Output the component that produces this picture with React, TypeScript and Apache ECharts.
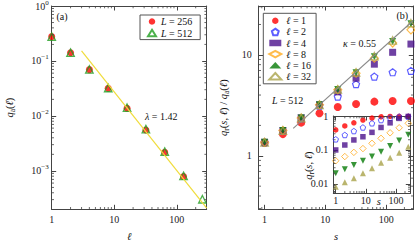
import React, { useEffect, useRef } from 'react';
import * as echarts from 'echarts';

// ---------- data ----------
const ellA = [1, 2, 4, 8, 16, 32, 64, 128, 256];
const qaL256 = [0.277, 0.141, 0.0695, 0.0319, 0.0138, 0.00556, 0.00219, 0.00079];
const qaL512 = [0.277, 0.142, 0.07, 0.0322, 0.0141, 0.00575, 0.00224, 0.00081, 0.000305];
const fitA = [[3, 0.152], [300, 0.00021]];

const sVals = [1, 2, 4, 8, 16, 32, 64, 128, 256];
const ratioL1 = [1.34, 1.64, 2.13, 2.64, 3.05, 3.26, 3.44, 3.49, 3.49];
const ratioL2 = [1.36, 1.76, 2.35, 3.14, 3.85, 5.12, 6.09, 6.73, 6.94];
const ratioL4 = [1.36, 1.78, 2.38, 3.2, 4.3, 5.87, 8.09, 10.6, 12.8];
const ratioL8 = [1.36, 1.78, 2.37, 3.2, 4.5, 6.58, 9.27, 13.1, 17.7];
const ratioL16 = [1.36, 1.78, 2.37, 3.2, 4.55, 6.65, 9.6, 13.6, 20.3];
const ratioL32 = [1.36, 1.78, 2.37, 3.2, 4.55, 6.7, 9.7, 13.9, 20.6];
const fitB = [[2.96, 1.87], [280, 21.9]];

const qrL1 = [0.39, 0.51, 0.63, 0.76, 0.87, 0.95, 0.97, 0.98, 0.98];
const qrL2 = [0.206, 0.276, 0.36, 0.46, 0.61, 0.76, 0.89, 0.96, 0.96];
const qrL4 = [0.1, 0.14, 0.197, 0.245, 0.33, 0.46, 0.63, 0.85, 0.97];
const qrL8 = [0.048, 0.064, 0.085, 0.11, 0.157, 0.22, 0.32, 0.45, 0.61];
const qrL16 = [0.0206, 0.027, 0.036, 0.048, 0.064, 0.089, 0.13, 0.19, 0.28];
const qrL32 = [0.0083, 0.0112, 0.0147, 0.0206, 0.029, 0.042, 0.059, 0.083, 0.125];

const legendA = ['L256', 'L512'];
const legendALabels: Record<string, string> = { L256: '{i|L} = 256', L512: '{i|L} = 512' };
const legendB = ['l1', 'l2', 'l4', 'l8', 'l16', 'l32'];
const legendBLabels: Record<string, string> = {
  l1: '{i|ℓ} = 1', l2: '{i|ℓ} = 2', l4: '{i|ℓ} = 4', l8: '{i|ℓ} = 8', l16: '{i|ℓ} = 16', l32: '{i|ℓ} = 32',
};

// ---------- style ----------
const SERIF = "'Liberation Serif', 'DejaVu Serif', serif";
const AX = '#444';
const RED = '#ff0000';
const BLUE = '#3535ff';
const PURPLE = '#4b128c';
const ORANGE = '#ffab1f';
const GREEN = '#067a06';
const OLIVE = '#a9a24a';
const GREEN_A = '#1f9e1f';
const PENTAGON = 'path://M0,-10 L9.51,-3.09 L5.88,8.09 L-5.88,8.09 L-9.51,-3.09 Z';

const pair = (xs: number[], ys: number[]) => ys.map((y, i) => [xs[i], y]);

const isDecade = (v: number) => {
  const e = Math.log10(v);
  return Math.abs(e - Math.round(e)) < 1e-6;
};
const plainFmt = (v: number) => {
  if (!isDecade(v)) return '';
  const r = Math.round(Math.log10(v));
  return r >= 0 ? String(Math.pow(10, r)) : Math.pow(10, r).toFixed(-r);
};
const powFmt = (v: number) => {
  if (!isDecade(v)) return '';
  const r = Math.round(Math.log10(v));
  return '{b|10}{sup|' + (r < 0 ? '−' + -r : String(r)) + '}';
};

const minorValues = (min: number, max: number) => {
  const out: number[] = [];
  for (let e = Math.floor(Math.log10(min)); e <= Math.ceil(Math.log10(max)); e++) {
    for (let k = 2; k <= 9; k++) {
      const v = k * Math.pow(10, e);
      if (v > min * 1.0001 && v < max * 0.9999) out.push(v);
    }
  }
  return out;
};

const nameRich = {
  i: { fontStyle: 'italic', fontFamily: SERIF, fontSize: 10.5, lineHeight: 14, color: '#111' },
  n: { fontFamily: SERIF, fontSize: 10.5, lineHeight: 14, color: '#111' },
  sub: { fontFamily: SERIF, fontSize: 7.5, lineHeight: 8, verticalAlign: 'bottom', color: '#111' },
};

function makeX(gridIndex: number, min: number, max: number, pos: 'bottom' | 'top', extra: any = {}) {
  return {
    type: 'log', logBase: 10, gridIndex, min, max, position: pos,
    axisLine: { show: true, lineStyle: { color: AX, width: 1 } },
    axisTick: { show: true, inside: true, length: 4.5, lineStyle: { color: AX, width: 1 } },
    axisLabel: pos === 'bottom'
      ? { show: true, formatter: plainFmt, margin: 5, color: '#222', fontFamily: SERIF, fontSize: 10 }
      : { show: false },
    splitLine: { show: false },
    minorTick: { show: false },
    ...extra,
  };
}
function makeY(gridIndex: number, min: number, max: number, pos: 'left' | 'right', extra: any = {}) {
  return {
    type: 'log', logBase: 10, gridIndex, min, max, position: pos,
    axisLine: { show: true, lineStyle: { color: AX, width: 1 } },
    axisTick: { show: true, inside: true, length: 4.5, lineStyle: { color: AX, width: 1 } },
    axisLabel: pos === 'left'
      ? { show: true, formatter: plainFmt, margin: 6, color: '#222', fontFamily: SERIF, fontSize: 10 }
      : { show: false },
    splitLine: { show: false },
    minorTick: { show: false },
    ...extra,
  };
}

function minorSeries(xi: number, yi: number, xmin: number, xmax: number, ymin: number, ymax: number) {
  const xRef = Math.sqrt(xmin * xmax);
  const yRef = Math.sqrt(ymin * ymax);
  const len = 2.3;
  const st = { stroke: AX, lineWidth: 0.8 };
  return [
    {
      type: 'custom', xAxisIndex: xi, yAxisIndex: yi, silent: true, z: 5,
      data: minorValues(xmin, xmax).map((v) => [v, yRef]),
      renderItem: (params: any, api: any) => {
        const cs = params.coordSys;
        const x = api.coord([api.value(0), api.value(1)])[0];
        const yb = cs.y + cs.height;
        return {
          type: 'group',
          children: [
            { type: 'line', shape: { x1: x, y1: yb, x2: x, y2: yb - len }, style: st },
            { type: 'line', shape: { x1: x, y1: cs.y, x2: x, y2: cs.y + len }, style: st },
          ],
        };
      },
    },
    {
      type: 'custom', xAxisIndex: xi, yAxisIndex: yi, silent: true, z: 5,
      data: minorValues(ymin, ymax).map((v) => [xRef, v]),
      renderItem: (params: any, api: any) => {
        const cs = params.coordSys;
        const y = api.coord([api.value(0), api.value(1)])[1];
        const xr = cs.x + cs.width;
        return {
          type: 'group',
          children: [
            { type: 'line', shape: { x1: cs.x, y1: y, x2: cs.x + len, y2: y }, style: st },
            { type: 'line', shape: { x1: xr, y1: y, x2: xr - len, y2: y }, style: st },
          ],
        };
      },
    },
  ];
}

const A = { xmin: 1, xmax: 300, ymin: 2.0e-4, ymax: 1 };
const B = { xmin: 0.8, xmax: 280, ymin: 0.295, ymax: 30.5 };
const C = { xmin: 0.83, xmax: 300, ymin: 0.0053, ymax: 1 };

function buildOption() {
  const labelRich = {
    b: { fontFamily: SERIF, fontSize: 10, lineHeight: 14, color: '#222' },
    sup: { fontFamily: SERIF, fontSize: 7, lineHeight: 8, verticalAlign: 'top', color: '#222' },
  };
  const xAxis = [
    makeX(0, A.xmin, A.xmax, 'bottom', {
      name: '{i|ℓ}', nameLocation: 'middle', nameGap: 20, nameTextStyle: { rich: nameRich },
    }),
    makeX(0, A.xmin, A.xmax, 'top'),
    makeX(1, B.xmin, B.xmax, 'bottom', {
      name: '{i|s}', nameLocation: 'middle', nameGap: 20, nameTextStyle: { rich: nameRich },
    }),
    makeX(1, B.xmin, B.xmax, 'top'),
    makeX(2, C.xmin, C.xmax, 'bottom', {
      name: '{i|s}', nameLocation: 'middle', nameGap: 1, nameMoveOverlap: false,
      nameTextStyle: { rich: nameRich, padding: [0, 0, 0, 14] },
      axisLabel: { show: true, formatter: plainFmt, margin: 2, color: '#222', fontFamily: SERIF, fontSize: 10 },
    }),
    makeX(2, C.xmin, C.xmax, 'top'),
  ];
  const yAxis = [
    makeY(0, A.ymin, A.ymax, 'left', {
      axisLabel: { show: true, formatter: powFmt, margin: 3, rich: labelRich },
      name: '{i|q}{sub|a}{n|(}{i|ℓ}{n|)}', nameLocation: 'middle', nameGap: 35, nameTextStyle: { rich: nameRich },
    }),
    makeY(0, A.ymin, A.ymax, 'right'),
    makeY(1, B.ymin, B.ymax, 'left', {
      axisLabel: { show: true, formatter: plainFmt, margin: 7, color: '#222', fontFamily: SERIF, fontSize: 10 },
      name: '{i|q}{sub|r}{n|(}{i|s}{n|, }{i|ℓ}{n|) / }{i|q}{sub|a}{n|(}{i|ℓ}{n|)}',
      nameLocation: 'middle', nameGap: 28, nameTextStyle: { rich: nameRich },
    }),
    makeY(1, B.ymin, B.ymax, 'right'),
    makeY(2, C.ymin, C.ymax, 'left', {
      axisLabel: { show: true, formatter: plainFmt, margin: 5, color: '#222', fontFamily: SERIF, fontSize: 10 },
      name: '{i|q}{sub|r}{n|(}{i|s}{n|, }{i|ℓ}{n|)}', nameMoveOverlap: false,
      nameLocation: 'middle', nameGap: 18, nameTextStyle: { rich: nameRich, padding: [0, 22, 0, 0] },
    }),
    makeY(2, C.ymin, C.ymax, 'right'),
  ];

  const open = (c: string, w = 1.2) => ({ color: 'rgba(255,255,255,0)', borderColor: c, borderWidth: w });

  const series: any[] = [
    // panel (a)
    { name: 'L256', type: 'scatter', xAxisIndex: 0, yAxisIndex: 0, symbol: 'circle', symbolSize: 7,
      itemStyle: { color: RED }, data: pair(ellA, qaL256), z: 3 },
    { name: 'L512', type: 'scatter', xAxisIndex: 0, yAxisIndex: 0, symbol: 'triangle', symbolSize: 7.5,
      itemStyle: open(GREEN_A, 1.3), data: pair(ellA, qaL512), z: 4 },
    { name: 'fitA', type: 'line', xAxisIndex: 0, yAxisIndex: 0, data: fitA, symbol: 'none',
      lineStyle: { color: '#f0dc3c', width: 1.2 }, z: 6 },
    // panel (b)
    { name: 'l1', type: 'scatter', xAxisIndex: 2, yAxisIndex: 2, symbol: 'circle', symbolSize: 8,
      itemStyle: { color: RED }, data: pair(sVals, ratioL1), z: 3 },
    { name: 'l2', type: 'scatter', xAxisIndex: 2, yAxisIndex: 2, symbol: PENTAGON, symbolSize: 7,
      itemStyle: open(BLUE), data: pair(sVals, ratioL2), z: 3 },
    { name: 'l4', type: 'scatter', xAxisIndex: 2, yAxisIndex: 2, symbol: 'rect', symbolSize: 7,
      itemStyle: { color: PURPLE }, data: pair(sVals, ratioL4), z: 3 },
    { name: 'l8', type: 'scatter', xAxisIndex: 2, yAxisIndex: 2, symbol: 'diamond', symbolSize: 8,
      itemStyle: open(ORANGE), data: pair(sVals, ratioL8), z: 3 },
    { name: 'l16', type: 'scatter', xAxisIndex: 2, yAxisIndex: 2, symbol: 'triangle', symbolRotate: 180, symbolSize: 7,
      itemStyle: { color: GREEN }, data: pair(sVals, ratioL16), z: 3 },
    { name: 'l32', type: 'scatter', xAxisIndex: 2, yAxisIndex: 2, symbol: 'triangle', symbolSize: 7.5,
      itemStyle: open(OLIVE, 1.3), data: pair(sVals, ratioL32), z: 3 },
    { name: 'fitB', type: 'line', xAxisIndex: 2, yAxisIndex: 2, data: fitB, symbol: 'none',
      lineStyle: { color: '#8a8a8a', width: 1.1 }, z: 6 },
    // inset
    { name: 'i1', type: 'scatter', xAxisIndex: 4, yAxisIndex: 4, symbol: 'circle', symbolSize: 5.5,
      itemStyle: { color: RED }, data: pair(sVals, qrL1), z: 3 },
    { name: 'i2', type: 'scatter', xAxisIndex: 4, yAxisIndex: 4, symbol: PENTAGON, symbolSize: 5.5,
      itemStyle: open(BLUE, 1), data: pair(sVals, qrL2), z: 3 },
    { name: 'i4', type: 'scatter', xAxisIndex: 4, yAxisIndex: 4, symbol: 'rect', symbolSize: 5.5,
      itemStyle: { color: PURPLE }, data: pair(sVals, qrL4), z: 3 },
    { name: 'i8', type: 'scatter', xAxisIndex: 4, yAxisIndex: 4, symbol: 'diamond', symbolSize: 6.5,
      itemStyle: open(ORANGE, 1), data: pair(sVals, qrL8), z: 3 },
    { name: 'i16', type: 'scatter', xAxisIndex: 4, yAxisIndex: 4, symbol: 'triangle', symbolRotate: 180, symbolSize: 6,
      itemStyle: { color: GREEN }, data: pair(sVals, qrL16), z: 3 },
    { name: 'i32', type: 'scatter', xAxisIndex: 4, yAxisIndex: 4, symbol: 'triangle', symbolSize: 6,
      itemStyle: { color: OLIVE }, data: pair(sVals, qrL32), z: 3 },
    ...minorSeries(0, 0, A.xmin, A.xmax, A.ymin, A.ymax),
    ...minorSeries(2, 2, B.xmin, B.xmax, B.ymin, B.ymax),
    ...minorSeries(4, 4, C.xmin, C.xmax, C.ymin, C.ymax),
  ];

  const legendText = {
    fontFamily: SERIF, fontSize: 10, lineHeight: 11, color: '#111',
    rich: {
      i: { fontFamily: SERIF, fontSize: 10, fontStyle: 'italic', lineHeight: 11, color: '#111' },
    },
  };

  const txt = (x: number, y: number, text: string, extra: any = {}) => ({
    type: 'text', x, y, z: 50,
    style: {
      text, fontFamily: SERIF, fontSize: 10, fill: '#111', verticalAlign: 'middle', align: 'left',
      rich: { i: { fontFamily: SERIF, fontSize: 10, fontStyle: 'italic', fill: '#111' } },
      ...extra,
    },
  });

  const gridBase = { containLabel: false, outerBoundsMode: 'none' };

  return {
    animation: false,
    backgroundColor: '#ffffff',
    grid: [
      { ...gridBase, left: 51.7, right: 208.3, top: 6, bottom: 31.7 },
      { ...gridBase, left: 258.7, right: 1.7, top: 6, bottom: 31.7 },
      { ...gridBase, left: 333.3, right: 4.7, top: 116, bottom: 47.7, show: true,
        backgroundColor: '#ffffff', borderWidth: 0 },
    ],
    xAxis, yAxis, series,
    legend: [
      {
        data: legendA, left: 140, top: 15, orient: 'vertical',
        formatter: (n: string) => legendALabels[n] || n,
        itemWidth: 8, itemHeight: 6.5, itemGap: 0.6, padding: [1, 8, 1, 7],
        borderColor: '#555', borderWidth: 1, borderRadius: 0, backgroundColor: '#fff',
        textStyle: legendText, selectedMode: false,
      },
      {
        data: legendB, left: 263.3, top: 13.3, orient: 'vertical',
        formatter: (n: string) => legendBLabels[n] || n,
        itemWidth: 12, itemHeight: 6.5, itemGap: 0.1, padding: [2, 5, 2, 5],
        borderColor: '#555', borderWidth: 1, borderRadius: 0, backgroundColor: '#fff',
        textStyle: legendText, selectedMode: false,
      },
    ],
    graphic: [
      txt(56.5, 16, '(a)'),
      txt(396.5, 15.5, '(b)'),
      txt(145, 116, '{i|λ} = 1.42'),
      txt(343, 43.5, '{i|κ} = 0.55'),
      txt(272, 100, '{i|L} = 512'),
    ],
  };
}

export default function App() {
  const ref = useRef<HTMLDivElement>(null);
  useEffect(() => {
    if (!ref.current) return;
    const chart = echarts.init(ref.current, undefined, { renderer: 'svg' });
    chart.setOption(buildOption() as any);
    return () => chart.dispose();
  }, []);
  return (
    <div
      ref={ref}
      style={{ position: 'fixed', left: 0, top: 0, width: 415, height: 241, background: '#fff' }}
    />
  );
}
